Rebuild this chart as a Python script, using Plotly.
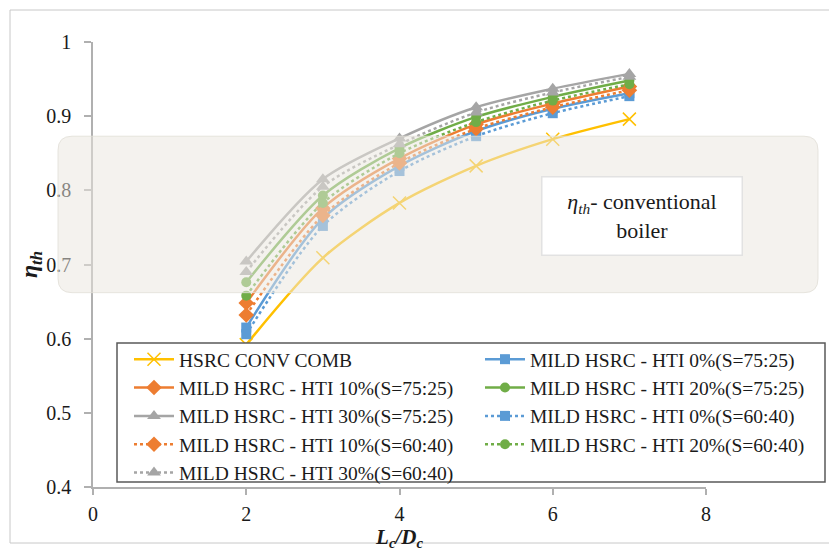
import plotly.graph_objects as go

# ---------------- data ----------------
lc_dc = [2, 3, 4, 5, 6, 7]
conv_comb = [0.592, 0.709, 0.783, 0.833, 0.869, 0.896]
hti0_75 = [0.615, 0.762, 0.833, 0.880, 0.910, 0.931]
hti10_75 = [0.648, 0.776, 0.843, 0.889, 0.917, 0.940]
hti20_75 = [0.676, 0.793, 0.857, 0.899, 0.926, 0.948]
hti30_75 = [0.704, 0.815, 0.870, 0.912, 0.937, 0.957]
hti0_60 = [0.606, 0.752, 0.826, 0.873, 0.904, 0.927]
hti10_60 = [0.632, 0.766, 0.837, 0.883, 0.912, 0.935]
hti20_60 = [0.658, 0.783, 0.850, 0.892, 0.921, 0.943]
hti30_60 = [0.690, 0.805, 0.862, 0.905, 0.932, 0.953]

names = [
    "HSRC CONV COMB",
    "MILD HSRC - HTI 0%(S=75:25)",
    "MILD HSRC - HTI 10%(S=75:25)",
    "MILD HSRC - HTI 20%(S=75:25)",
    "MILD HSRC - HTI 30%(S=75:25)",
    "MILD HSRC - HTI 0%(S=60:40)",
    "MILD HSRC - HTI 10%(S=60:40)",
    "MILD HSRC - HTI 20%(S=60:40)",
    "MILD HSRC - HTI 30%(S=60:40)",
]
series = [conv_comb, hti0_75, hti10_75, hti20_75, hti30_75,
          hti0_60, hti10_60, hti20_60, hti30_60]

# conventional-boiler efficiency band (eta_th range)
band_low, band_high = 0.662, 0.873
y_range = [0.4, 1.0]
x_range = [0, 8]

# ---------------- styles ----------------
YEL, BLU, ORA, GRN, GRY = "#FFC000", "#5B9BD5", "#ED7D31", "#70AD47", "#A5A5A5"
styles = [
    dict(color=YEL, dash="solid", symbol="x-thin-open", size=13),
    dict(color=BLU, dash="solid", symbol="square", size=10),
    dict(color=ORA, dash="solid", symbol="diamond", size=12),
    dict(color=GRN, dash="solid", symbol="circle", size=10),
    dict(color=GRY, dash="solid", symbol="triangle-up", size=12),
    dict(color=BLU, dash="dot", symbol="square", size=10),
    dict(color=ORA, dash="dot", symbol="diamond", size=12),
    dict(color=GRN, dash="dot", symbol="circle", size=10),
    dict(color=GRY, dash="dot", symbol="triangle-up", size=12),
]
# two-column legend, row-major like the reference
legend_col = ["legend", "legend2", "legend", "legend2", "legend",
              "legend2", "legend", "legend2", "legend"]

FONT = "Liberation Serif, Times New Roman, serif"

fig = go.Figure()
for nm, ys, st, lg in zip(names, series, styles, legend_col):
    mk = dict(symbol=st["symbol"], size=st["size"], color=st["color"])
    if st["symbol"].startswith("x-thin"):
        mk["line"] = dict(color=st["color"], width=1.5)
    fig.add_trace(go.Scatter(
        x=lc_dc, y=ys, name=nm, mode="lines+markers", legend=lg,
        line=dict(color=st["color"], width=2.5, dash=st["dash"], shape="spline", smoothing=0.8),
        marker=mk,
    ))

W, H = 829, 553
ml, mr, mt, mb = 93, 123, 42, 66
pw, ph = W - ml - mr, H - mt - mb


def px(xp):
    return (xp - ml) / pw


def py(yp):
    return (H - mb - yp) / ph


def yv(v):
    return (v - y_range[0]) / (y_range[1] - y_range[0])


bx0, bx1 = px(58), px(818)
by0, by1 = yv(band_low), yv(band_high)
rx, ry = 14 / pw, 14 / ph
path = (f"M{bx0+rx},{by1} L{bx1-rx},{by1} Q{bx1},{by1} {bx1},{by1-ry} "
        f"L{bx1},{by0+ry} Q{bx1},{by0} {bx1-rx},{by0} "
        f"L{bx0+rx},{by0} Q{bx0},{by0} {bx0},{by0+ry} "
        f"L{bx0},{by1-ry} Q{bx0},{by1} {bx0+rx},{by1} Z")

shapes = [
    dict(type="path", xref="paper", yref="paper", path=path,
         fillcolor="rgba(234,231,222,0.52)", line=dict(color="rgba(225,223,215,0.8)", width=1),
         layer="above"),
    dict(type="rect", xref="paper", yref="paper",
         x0=px(10), x1=px(840), y0=py(543), y1=py(10),
         line=dict(color="#c8c8c8", width=1), fillcolor="rgba(0,0,0,0)", layer="below"),
    dict(type="rect", xref="paper", yref="paper",
         x0=px(117), x1=px(825), y0=py(482), y1=py(343),
         line=dict(color="#595959", width=1.5), fillcolor="white", layer="above"),
]

annotations = [
    dict(xref="paper", yref="paper", x=px(641.5), y=py(215.5),
         text="<i>η<sub>th</sub></i>- conventional<br>boiler",
         showarrow=False, font=dict(family=FONT, size=22, color="#1a1a1a"),
         bgcolor="white", bordercolor="#e2e2e2", borderwidth=1.5,
         width=197, height=75, borderpad=1, align="center",
         xanchor="center", yanchor="middle"),
]

leg_common = dict(
    orientation="v", xanchor="left", yanchor="top",
    bgcolor="rgba(0,0,0,0)", borderwidth=0,
    font=dict(family=FONT, size=19.5, color="#1a1a1a"),
    traceorder="normal", itemwidth=40, tracegroupgap=0,
)

fig.update_layout(
    width=W, height=H,
    margin=dict(l=ml, r=mr, t=mt, b=mb),
    paper_bgcolor="white", plot_bgcolor="white",
    font=dict(family=FONT, size=17, color="#1a1a1a"),
    shapes=shapes, annotations=annotations,
    showlegend=True,
    legend=dict(x=px(129), y=py(340), **leg_common),
    legend2=dict(x=px(480), y=py(340), **leg_common),
    xaxis=dict(
        range=x_range, dtick=2, tick0=0, showgrid=False, zeroline=False,
        showline=True, linecolor="#b0b0b0", linewidth=1.5,
        ticks="outside", ticklen=6, tickcolor="#b0b0b0", tickwidth=1.5,
        tickfont=dict(family=FONT, size=20), ticklabelstandoff=2,
        title=dict(text="<b><i>L<sub>c</sub>/D<sub>c</sub></i></b>",
                   font=dict(family=FONT, size=21), standoff=0),
    ),
    yaxis=dict(
        range=y_range, dtick=0.1, tick0=0.4, showgrid=False, zeroline=False,
        showline=True, linecolor="#b0b0b0", linewidth=1.5,
        ticks="outside", ticklen=7, tickcolor="#b0b0b0", tickwidth=1.5,
        tickfont=dict(family=FONT, size=20), tickformat="~g", ticklabelstandoff=9,
        title=dict(text="<b><i>η<sub>th</sub></i></b>",
                   font=dict(family=FONT, size=24), standoff=0),
    ),
)

fig.write_html("out.html")
